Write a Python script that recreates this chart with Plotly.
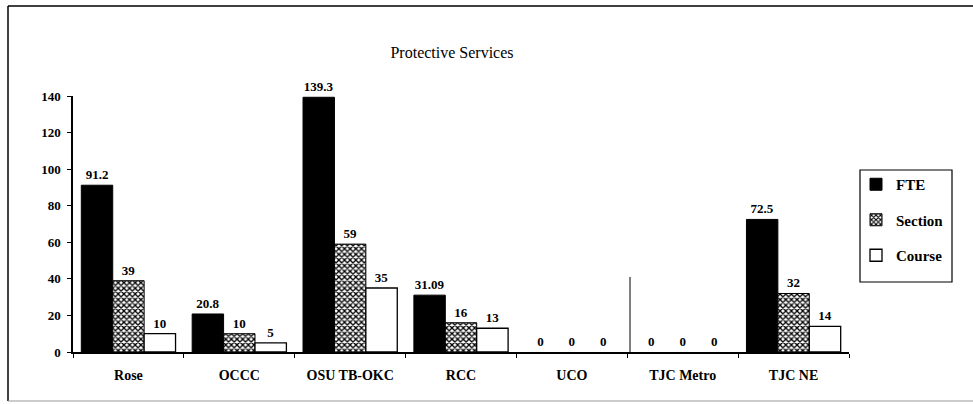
import plotly.graph_objects as go

categories = ["Rose", "OCCC", "OSU TB-OKC", "RCC", "UCO", "TJC Metro", "TJC NE"]
fte = [91.2, 20.8, 139.3, 31.09, 0, 0, 72.5]
section = [39, 10, 59, 16, 0, 0, 32]
course = [10, 5, 35, 13, 0, 0, 14]
y_ticks = [0, 20, 40, 60, 80, 100, 120, 140]

FONT = "Liberation Serif"
LBL = dict(family=FONT, size=13, color="black", weight="bold")
TICK = dict(family=FONT, size=14, color="black", weight="bold")


def outline(vals, w):
    return [w if v > 0 else 0 for v in vals]


fig = go.Figure()
fig.add_trace(go.Bar(
    name="FTE", x=categories, y=fte, text=[str(v) for v in fte],
    textposition="outside", cliponaxis=False, legendgroup="a",
    marker=dict(color="black", line=dict(color="black", width=outline(fte, 1))),
    textfont=LBL, outsidetextfont=LBL,
))
fig.add_trace(go.Bar(
    name="Section", x=categories, y=section, text=[str(v) for v in section],
    textposition="outside", cliponaxis=False, legendgroup="b",
    marker=dict(color="white", line=dict(color="black", width=outline(section, 1)),
                pattern=dict(shape="x", size=4, solidity=0.55,
                             fgcolor="black", bgcolor="white", fillmode="replace")),
    textfont=LBL, outsidetextfont=LBL,
))
fig.add_trace(go.Bar(
    name="Course", x=categories, y=course, text=[str(v) for v in course],
    textposition="outside", cliponaxis=False, legendgroup="c",
    marker=dict(color="white", line=dict(color="black", width=outline(course, 1.3))),
    textfont=LBL, outsidetextfont=LBL,
))

L, R, T, B = 73, 124, 96, 52
W, H = 973, 404
pw, ph = W - L - R, H - T - B


def px(x):
    return (x - L) / pw


def py(y):
    return (H - B - y) / ph


shapes = [
    dict(type="line", xref="paper", yref="paper", x0=px(8), x1=px(975), y0=py(6), y1=py(6),
         line=dict(color="black", width=1.5)),
    dict(type="line", xref="paper", yref="paper", x0=px(8), x1=px(8), y0=py(6), y1=py(401),
         line=dict(color="black", width=1.5)),
    dict(type="line", xref="paper", yref="paper", x0=px(8), x1=px(975), y0=py(401), y1=py(401),
         line=dict(color="#999999", width=1)),
    dict(type="line", xref="paper", yref="paper", x0=px(630), x1=px(630), y0=py(277), y1=py(352),
         line=dict(color="black", width=1)),
    dict(type="rect", xref="paper", yref="paper", x0=px(860), x1=px(952), y0=py(282), y1=py(170),
         line=dict(color="black", width=1.2), fillcolor="white", layer="below"),
]

fig.update_layout(
    width=W, height=H,
    margin=dict(l=L, r=R, t=T, b=B, autoexpand=False),
    paper_bgcolor="white", plot_bgcolor="white",
    barmode="group", bargap=0.15, bargroupgap=0,
    font=dict(family=FONT, size=13, color="black"),
    title=dict(text="Protective Services", x=452 / W, xanchor="center",
               y=1 - 52 / H, yanchor="middle", yref="container",
               font=dict(family=FONT, size=16, color="black")),
    showlegend=True,
    legend=dict(x=px(856), y=py(168), xanchor="left", yanchor="top",
                bgcolor="rgba(0,0,0,0)", borderwidth=0,
                font=dict(family=FONT, size=15, color="black", weight="bold"),
                tracegroupgap=13, traceorder="grouped"),
    shapes=shapes,
)
fig.update_xaxes(showline=True, linecolor="black", linewidth=1.5,
                 ticks="outside", tickson="boundaries", ticklen=4, tickcolor="black",
                 showgrid=False, ticklabelstandoff=9,
                 tickfont=TICK)
fig.update_yaxes(range=[0, 140], tickvals=y_ticks, showline=True, linecolor="black",
                 linewidth=1.5, ticks="outside", ticklen=4, tickcolor="black",
                 showgrid=False, zeroline=False, ticklabelstandoff=4,
                 tickfont=LBL)

fig.write_html("out.html", config={"displayModeBar": False},
               post_script="document.body.style.margin='0';document.body.style.overflow='hidden';")
